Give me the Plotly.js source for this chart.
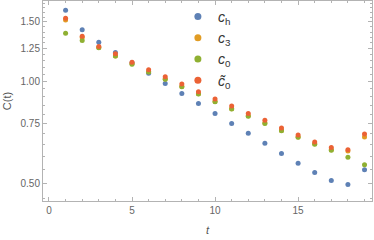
<!DOCTYPE html>
<html>
<head>
<meta charset="utf-8">
<script src="https://cdn.plot.ly/plotly-3.0.1.min.js"></script>
<style>html,body{margin:0;padding:0;background:#fff;}#chart{width:374px;height:240px;}</style>
</head>
<body>
<div id="chart"></div>
<script>
const t = [1,2,3,4,5,6,7,8,9,10,11,12,13,14,15,16,17,18,19];
const cH = [1.624,1.421,1.307,1.217,1.135,1.058,0.986,0.921,0.860,0.804,0.751,0.702,0.656,0.612,0.572,0.537,0.509,0.495,0.548];
const c3 = [1.520,1.348,1.259,1.190,1.127,1.068,1.016,0.966,0.919,0.872,0.830,0.791,0.753,0.716,0.685,0.654,0.628,0.622,0.685];
const c0 = [1.389,1.321,1.257,1.190,1.125,1.066,1.014,0.964,0.917,0.870,0.828,0.789,0.751,0.714,0.683,0.652,0.625,0.596,0.567];
const c0t = [1.538,1.361,1.268,1.207,1.140,1.082,1.032,0.982,0.932,0.887,0.845,0.804,0.767,0.728,0.694,0.662,0.637,0.628,0.699];
const names = ['<i>c</i><sub>h</sub>','<i>c</i><sub>3</sub>','<i>c</i><sub>0</sub>','<i>c\u0303</i><sub>0</sub>'];
const colors = ['#5E81B5','#E19C24','#8FB032','#EB6235'];
const yTickVals = [0.5,0.75,1.0,1.25,1.5];
const yTickText = ['0.50','0.75','1.00','1.25','1.50'];
const yMinor = [0.45,0.55,0.6,0.65,0.7,0.8,0.85,0.9,0.95,1.05,1.1,1.15,1.2,1.3,1.35,1.4,1.45,1.55,1.6,1.65,1.7];
const xTickVals = [0,5,10,15];

const series = [cH,c3,c0,c0t];
const traces = series.map((s,i)=>({
  x: t, y: s, type:'scatter', mode:'markers', name: names[i],
  showlegend:false,
  marker:{color:colors[i], size:5}
}));
// legend entries (no data points) with larger symbols, as in the reference
const legendTraces = names.map((n,i)=>({
  x:[null], y:[null], type:'scatter', mode:'markers', name:n,
  showlegend:true,
  marker:{color:colors[i], size:7}
}));

const axisCommon = {
  showgrid:false, zeroline:false, showline:true, linecolor:'#b3b3b3', linewidth:1,
  mirror:'ticks', ticks:'inside', ticklen:4, tickcolor:'#b3b3b3', tickwidth:1,
  tickfont:{family:'Liberation Sans, Arial, sans-serif', size:10, color:'#666'}
};

const layout = {
  width:374, height:240,
  margin:{l:43, r:2, t:1, b:39},
  paper_bgcolor:'#fff', plot_bgcolor:'#fff',
  showlegend:true,
  legend:{x:0.41, y:1.0, xanchor:'left', yanchor:'top', bgcolor:'rgba(0,0,0,0)', tracegroupgap:0,
    font:{family:'Liberation Sans, Arial, sans-serif', size:14, color:'#333'}},
  xaxis: Object.assign({}, axisCommon, {
    range:[-0.36, 19.45], tickmode:'array', tickvals:xTickVals,
    minor:{tickmode:'linear', tick0:0, dtick:1, ticks:'inside', ticklen:2, tickcolor:'#b3b3b3', showgrid:false},
    title:{text:'<i>t</i>', font:{family:'Liberation Sans, Arial, sans-serif', size:11, color:'#555'}, standoff:11}
  }),
  yaxis: Object.assign({}, axisCommon, {
    type:'log', range:[Math.log10(0.4425), Math.log10(1.73)],
    tickmode:'array', tickvals:yTickVals, ticktext:yTickText,
    minor:{tickmode:'array', tickvals:yMinor, ticks:'inside', ticklen:2, tickcolor:'#b3b3b3', showgrid:false},
    title:{text:'C(t)', font:{family:'Liberation Sans, Arial, sans-serif', size:11, color:'#555'}, standoff:6}
  })
};

Plotly.newPlot('chart', traces.concat(legendTraces), layout, {displayModeBar:false, staticPlot:true});
</script>
</body>
</html>
